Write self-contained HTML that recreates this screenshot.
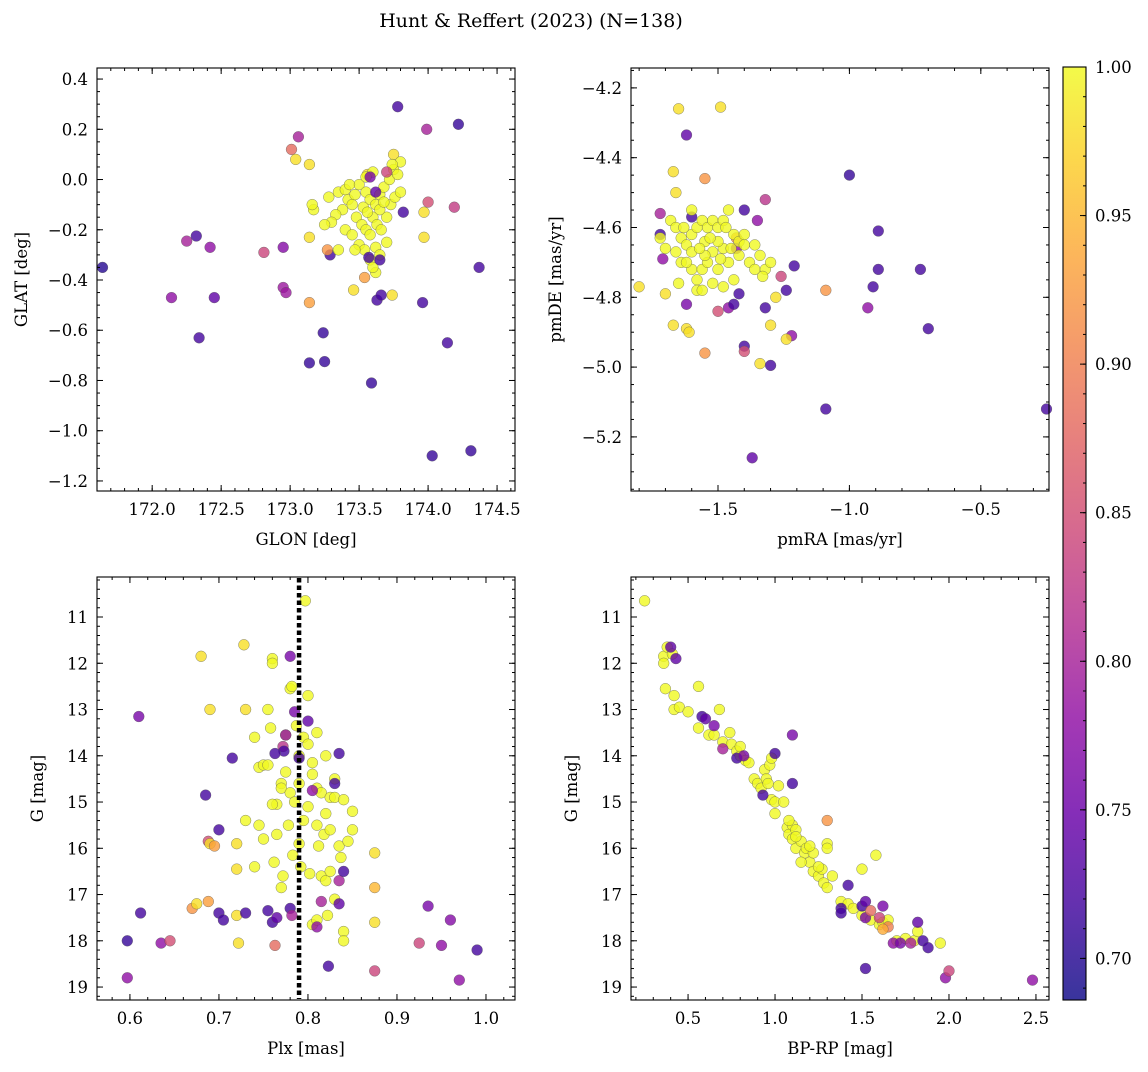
<!DOCTYPE html>
<html><head><meta charset="utf-8"><style>
html,body{margin:0;padding:0;background:#fff}
svg text{font-family:"DejaVu Serif","Liberation Serif",serif;fill:#000}
</style></head><body>
<svg id="fig" width="1148" height="1067" xmlns="http://www.w3.org/2000/svg">
<text x="531" y="27" text-anchor="middle" font-size="19">Hunt &amp; Reffert (2023) (N=138)</text>
</svg>
<script>
// ---- data ----
const p1Lon=[171.64,172.14,172.25,172.32,172.34,172.42,172.45,172.81,172.95,172.95,172.97,173.01,173.06,173.04,173.14,173.14,173.14,173.14,173.25,173.24,173.29,173.27,173.46,173.54,173.59,173.63,173.66,173.75,173.74,173.56,173.78,173.82,173.96,173.97,173.97,173.99,174.0,174.14,174.03,174.19,174.22,174.31,174.37,
173.35,173.40,173.42,173.45,173.38,173.33,173.30,173.50,173.55,173.58,173.62,173.65,173.68,173.72,173.75,173.78,173.60,173.48,173.52,173.55,173.58,173.60,173.63,173.66,173.70,173.73,173.76,173.40,173.45,173.50,173.54,173.62,173.65,173.70,173.17,173.16,173.25,173.28,173.43,173.47,173.53,173.56,173.62,173.58,173.35,173.47,173.80,173.80,173.74,173.65,173.68,173.55,173.60,
173.58,173.62,173.57,173.65,173.70];
const p1Lat=[-0.35,-0.47,-0.245,-0.225,-0.63,-0.27,-0.47,-0.29,-0.27,-0.43,-0.45,0.12,0.17,0.08,0.06,-0.23,-0.49,-0.73,-0.725,-0.61,-0.30,-0.28,-0.44,-0.39,-0.81,-0.48,-0.46,0.1,-0.46,0.02,0.29,-0.13,-0.49,-0.23,-0.13,0.2,-0.09,-0.65,-1.10,-0.11,0.22,-1.08,-0.35,
-0.05,-0.04,-0.08,-0.1,-0.12,-0.14,-0.17,-0.02,-0.05,-0.08,-0.1,-0.06,-0.03,0.0,0.04,0.02,0.03,-0.15,-0.18,-0.2,-0.22,-0.15,-0.18,-0.2,-0.15,-0.1,-0.07,-0.2,-0.22,-0.26,-0.28,-0.27,-0.3,-0.25,-0.12,-0.10,-0.18,-0.07,-0.02,-0.06,-0.11,-0.13,-0.37,-0.32,-0.28,-0.28,-0.05,0.07,0.06,-0.12,-0.09,0.01,-0.35,
0.01,-0.05,-0.31,-0.32,0.03];
const p1Prob=[0.70,0.78,0.80,0.72,0.72,0.78,0.74,0.84,0.77,0.79,0.79,0.88,0.80,0.98,0.98,0.98,0.93,0.71,0.71,0.71,0.72,0.92,0.98,0.93,0.71,0.72,0.72,0.98,0.98,0.98,0.72,0.72,0.72,0.98,0.98,0.80,0.85,0.72,0.71,0.83,0.71,0.71,0.72,
1,1,1,1,1,1,1,1,1,1,1,1,1,1,1,1,1,1,1,1,1,1,1,1,1,1,1,1,1,1,1,1,1,1,1,1,1,1,1,1,1,1,1,1,1,1,1,1,1,1,1,1,1,
0.76,0.74,0.72,0.72,0.84];

const p2RA=[-1.65,-1.49,-1.62,-1.67,-1.66,-1.55,-1.00,-1.32,-1.40,-1.35,-1.72,-1.60,-1.72,-1.71,-1.80,-1.70,-1.62,-1.50,-1.46,-1.44,-1.32,-1.67,-1.62,-1.61,-1.55,-1.40,-1.40,-1.34,-1.30,-1.30,-1.22,-1.24,-1.21,-1.24,-1.26,-1.28,-1.09,-0.89,-0.89,-0.91,-0.93,-0.73,-0.70,-1.09,-0.25,-1.37,-1.42,-1.43,-1.43,
-1.68,-1.66,-1.64,-1.62,-1.60,-1.58,-1.56,-1.54,-1.52,-1.50,-1.48,-1.46,-1.44,-1.42,-1.40,-1.38,-1.36,-1.34,-1.32,-1.30,-1.66,-1.64,-1.60,-1.58,-1.56,-1.54,-1.52,-1.50,-1.48,-1.46,-1.44,-1.42,-1.58,-1.56,-1.52,-1.48,-1.62,-1.60,-1.55,-1.50,-1.45,-1.40,-1.70,-1.72,-1.65,-1.63,-1.53,-1.47,-1.36,-1.33,-1.60,-1.55,-1.49,-1.57];
const p2DE=[-4.26,-4.255,-4.335,-4.44,-4.50,-4.46,-4.45,-4.52,-4.55,-4.58,-4.56,-4.57,-4.62,-4.69,-4.77,-4.79,-4.82,-4.84,-4.83,-4.82,-4.83,-4.88,-4.89,-4.90,-4.96,-4.94,-4.955,-4.99,-4.995,-4.88,-4.91,-4.92,-4.71,-4.78,-4.74,-4.80,-4.78,-4.61,-4.72,-4.77,-4.83,-4.72,-4.89,-5.12,-5.12,-5.26,-4.79,-4.63,-4.66,
-4.58,-4.60,-4.63,-4.65,-4.62,-4.60,-4.58,-4.60,-4.58,-4.60,-4.58,-4.55,-4.62,-4.64,-4.65,-4.70,-4.72,-4.68,-4.72,-4.70,-4.67,-4.70,-4.72,-4.75,-4.72,-4.70,-4.67,-4.72,-4.66,-4.70,-4.75,-4.68,-4.78,-4.78,-4.76,-4.77,-4.70,-4.67,-4.64,-4.64,-4.66,-4.62,-4.66,-4.63,-4.76,-4.60,-4.63,-4.60,-4.65,-4.74,-4.55,-4.68,-4.69,-4.66];
const p2Prob=[0.98,0.98,0.74,0.98,0.98,0.92,0.71,0.82,0.72,0.78,0.80,0.72,0.72,0.78,0.98,0.98,0.76,0.85,0.78,0.72,0.72,0.98,0.98,0.98,0.92,0.72,0.85,0.98,0.72,0.98,0.78,0.98,0.72,0.72,0.84,0.98,0.92,0.72,0.72,0.72,0.78,0.72,0.72,0.72,0.72,0.74,0.72,0.92,0.78,
1,1,1,1,1,1,1,1,1,1,1,1,1,1,1,1,1,1,1,1,1,1,1,1,1,1,1,1,1,1,1,1,1,1,1,1,1,1,1,1,1,1,1,1,1,1,1,1,1,1,1,1,1,1];

const p3Plx=[0.61,0.597,0.612,0.597,0.635,0.645,0.67,0.675,0.68,0.685,0.688,0.688,0.69,0.69,0.695,0.70,0.70,0.705,0.715,0.72,0.72,0.72,0.722,0.728,0.73,0.73,0.875,0.875,0.875,0.875,0.925,0.935,0.95,0.96,0.97,0.99,
0.74,0.745,0.75,0.755,0.745,0.75,0.74,0.755,0.758,0.76,0.76,0.765,0.765,0.762,0.77,0.77,0.772,0.775,0.775,0.778,0.78,0.782,0.78,0.785,0.783,0.787,0.79,0.79,0.79,0.792,0.795,0.795,0.797,0.8,0.8,0.8,0.802,0.805,0.805,0.81,0.81,0.81,0.812,0.815,0.815,0.818,0.82,0.82,0.82,0.822,0.825,0.825,0.825,0.83,0.83,0.83,0.835,0.837,0.84,0.84,0.84,0.845,0.85,0.85,0.76,0.73,0.77,0.805,0.81,
0.755,0.76,0.763,0.765,0.772,0.775,0.773,0.78,0.78,0.782,0.785,0.79,0.8,0.805,0.81,0.815,0.823,0.83,0.835,0.835,0.84,0.835,0.763];
const p3G=[13.15,18.0,17.4,18.8,18.05,18.0,17.3,17.2,11.85,14.85,17.15,15.85,13.0,15.9,15.95,15.6,17.4,17.55,14.05,16.45,15.9,17.45,18.05,11.6,13.0,17.4,16.1,16.85,17.6,18.65,18.05,17.25,18.1,17.55,18.85,18.2,
13.6,14.25,14.2,14.2,15.5,15.8,16.4,13.0,13.4,11.9,12.0,15.05,15.7,16.3,14.6,14.7,16.6,13.55,14.35,15.5,12.55,12.5,14.8,15.0,16.15,13.35,14.0,14.6,15.9,16.4,13.6,15.4,10.65,12.7,13.75,15.1,16.55,14.15,14.4,13.5,14.7,15.5,15.95,14.8,16.6,15.7,14.0,15.25,16.7,17.45,14.9,15.6,16.5,14.5,14.9,17.1,15.95,16.2,17.8,18.0,14.95,15.85,15.2,15.6,15.05,15.4,16.85,17.65,17.55,
17.35,17.6,18.1,17.5,13.8,13.55,13.9,11.85,17.3,17.45,13.05,14.05,13.25,14.75,17.7,17.15,18.55,14.6,13.95,16.7,16.5,17.2,13.95];
const p3Prob=[0.76,0.71,0.72,0.78,0.78,0.85,0.92,0.98,0.98,0.72,0.93,0.85,0.98,0.98,0.93,0.72,0.72,0.72,0.72,0.98,0.98,0.98,0.98,0.98,0.98,0.72,0.98,0.95,0.98,0.84,0.84,0.76,0.78,0.77,0.78,0.72,
1,1,1,1,1,1,1,1,1,1,1,1,1,1,1,1,1,1,1,1,1,1,1,1,1,1,1,1,1,1,1,1,1,1,1,1,1,1,1,1,1,1,1,1,1,1,1,1,1,1,1,1,1,1,1,1,1,1,1,1,1,1,1,1,1,1,1,1,1,
0.72,0.72,0.88,0.74,0.82,0.78,0.72,0.76,0.72,0.80,0.76,0.72,0.74,0.78,0.78,0.80,0.72,0.72,0.72,0.80,0.72,0.74,0.72];

const p4BR=[0.25,0.36,0.36,0.38,0.41,0.37,0.42,0.42,0.45,0.5,0.56,0.56,0.62,0.65,0.68,0.7,0.74,0.75,0.78,0.8,0.8,0.83,0.85,0.88,0.9,0.92,0.94,0.95,0.96,0.97,0.98,0.98,1.0,1.0,1.02,1.05,1.07,1.08,1.1,1.1,1.12,1.12,1.15,1.17,1.18,1.2,1.22,1.22,1.25,1.27,1.28,1.3,1.3,1.3,1.33,1.38,1.42,1.45,1.5,1.5,1.55,1.58,1.6,1.62,1.65,1.7,1.75,1.8,1.82,1.95,1.2,1.15,1.25,1.08,1.12,
0.4,0.43,0.58,0.6,0.65,0.7,0.78,0.82,0.93,1.0,1.1,1.1,1.3,1.38,1.38,1.42,1.5,1.52,1.52,1.52,1.55,1.6,1.62,1.65,1.68,1.72,1.78,1.82,1.85,1.88,1.98,2.0,2.48,1.62];
const p4G=[10.65,11.85,12.0,11.65,11.8,12.55,12.7,13.0,12.95,13.05,12.5,13.4,13.55,13.55,13.0,13.7,13.5,13.75,13.9,14.0,13.8,14.1,14.15,14.5,14.6,14.7,14.3,14.5,14.6,14.2,14.05,14.95,15.0,15.25,14.65,15.0,15.55,15.7,15.5,15.8,15.6,16.0,15.85,16.1,16.0,16.3,16.1,16.5,16.6,16.45,16.75,15.9,16.0,16.85,16.6,17.15,17.2,17.3,16.45,17.45,17.55,16.15,17.65,17.6,17.55,18.0,17.95,18.0,17.8,18.05,15.95,16.3,16.4,15.4,15.75,
11.65,11.9,13.15,13.2,13.35,13.85,14.05,14.0,14.85,13.95,13.55,14.6,15.4,17.3,17.4,16.8,17.25,17.15,17.5,18.6,17.35,17.5,17.25,17.7,18.05,18.05,18.05,17.6,18.0,18.15,18.8,18.65,18.85,17.75];
const p4Prob=[1,1,1,1,1,1,1,1,1,1,1,1,1,1,1,1,1,1,1,1,1,1,1,1,1,1,1,1,1,1,1,1,1,1,1,1,1,1,1,1,1,1,1,1,1,1,1,1,1,1,1,1,1,1,1,1,1,1,1,1,1,1,1,1,1,1,1,1,1,1,1,1,1,1,1,
0.74,0.74,0.72,0.74,0.76,0.80,0.72,0.76,0.72,0.72,0.76,0.72,0.92,0.72,0.72,0.72,0.72,0.74,0.76,0.72,0.88,0.84,0.76,0.90,0.78,0.76,0.80,0.74,0.72,0.72,0.78,0.84,0.78,0.94];

const p1XTicks=[172.0,172.5,173.0,173.5,174.0,174.5];
const p1YTicks=[-1.2,-1.0,-0.8,-0.6,-0.4,-0.2,0.0,0.2,0.4];
const p2XTicks=[-1.5,-1.0,-0.5];
const p2YTicks=[-5.2,-5.0,-4.8,-4.6,-4.4,-4.2];
const p3XTicks=[0.6,0.7,0.8,0.9,1.0];
const gTicks=[11,12,13,14,15,16,17,18,19];
const p4XTicks=[0.5,1.0,1.5,2.0,2.5];
const cbTicks=[0.70,0.75,0.80,0.85,0.90,0.95,1.00];
const plxLine=0.79;

// ---- helpers ----
const NS="http://www.w3.org/2000/svg";
const svg=document.getElementById('fig');
function mk(tag,attrs,parent){const e=document.createElementNS(NS,tag);for(const k in attrs)e.setAttribute(k,attrs[k]);(parent||svg).appendChild(e);return e;}
const VMIN=0.686,VMAX=1.0;
const stops=[[13,8,135],[65,4,157],[106,0,168],[143,13,164],[177,42,144],[204,71,120],[225,100,98],[242,132,75],[252,166,54],[252,206,37],[240,249,33]];
function plasma(v){let t=(v-VMIN)/(VMAX-VMIN);t=Math.max(0,Math.min(1,t));const f=t*10,i=Math.min(9,Math.floor(f)),r=f-i;const a=stops[i],b=stops[i+1];return `rgb(${Math.round(a[0]+(b[0]-a[0])*r)},${Math.round(a[1]+(b[1]-a[1])*r)},${Math.round(a[2]+(b[2]-a[2])*r)})`;}
function fmt(v,d){return (v<0?'\u2212':'')+Math.abs(v).toFixed(d);}
const FS=16.5;

function panel(name,box,xr,yr,xt,yt,xd,yd,xminor,yminor,xlabel,ylabel,xs,ys,ps){
  const [L,T,R,B]=box;
  const sx=v=>L+(v-xr[0])/(xr[1]-xr[0])*(R-L);
  const sy=v=>B-(v-yr[0])/(yr[1]-yr[0])*(B-T);
  const g=mk('g',{});
  
  
  const pts=mk('g',{},g);
  
  
  for(let i=0;i<xs.length;i++){
    const c=mk('circle',{cx:sx(xs[i]).toFixed(1),cy:sy(ys[i]).toFixed(1),r:5.4,fill:plasma(ps[i]),'fill-opacity':0.8,stroke:'#555','stroke-width':0.5,'stroke-opacity':0.7},pts);
    
    
  }
  const fr=mk('rect',{x:L,y:T,width:R-L,height:B-T,fill:'none',stroke:'#000','stroke-width':1.1},g);
  
  
  const lo=Math.min(xr[0],xr[1]),hi=Math.max(xr[0],xr[1]);
  for(let v=Math.ceil(lo/xminor)*xminor;v<=hi;v+=xminor){const x=sx(v);mk('line',{x1:x,x2:x,y1:B,y2:B-3,stroke:'#000'},g);mk('line',{x1:x,x2:x,y1:T,y2:T+3,stroke:'#000'},g);}
  const ylo=Math.min(yr[0],yr[1]),yhi=Math.max(yr[0],yr[1]);
  for(let v=Math.ceil(ylo/yminor)*yminor;v<=yhi;v+=yminor){const y=sy(v);mk('line',{x1:L,x2:L+3,y1:y,y2:y,stroke:'#000'},g);mk('line',{x1:R,x2:R-3,y1:y,y2:y,stroke:'#000'},g);}
  xt.forEach(v=>{const x=sx(v);mk('line',{x1:x,x2:x,y1:B,y2:B-6,stroke:'#000'},g);mk('line',{x1:x,x2:x,y1:T,y2:T+6,stroke:'#000'},g);
    const t=mk('text',{x:x,y:B+24,'text-anchor':'middle','font-size':FS},g);t.textContent=fmt(v,xd);
    
    });
  yt.forEach(v=>{const y=sy(v);mk('line',{x1:L,x2:L+6,y1:y,y2:y,stroke:'#000'},g);mk('line',{x1:R,x2:R-6,y1:y,y2:y,stroke:'#000'},g);
    const t=mk('text',{x:L-9,y:y+6,'text-anchor':'end','font-size':FS},g);t.textContent=fmt(v,yd);
    
    });
  const xl=mk('text',{x:(L+R)/2,y:B+54,'text-anchor':'middle','font-size':16.5},g);xl.textContent=xlabel;
  
  
  const yx=L-(yd===0?54:70);
  const yl=mk('text',{x:yx,y:(T+B)/2,'text-anchor':'middle','font-size':16.5,transform:`rotate(-90 ${yx} ${(T+B)/2})`},g);yl.textContent=ylabel;
  
  
  return {sx,sy,g};
}
panel('glon-glat',[97,68,515,491],[171.60,174.63],[-1.24,0.444],p1XTicks,p1YTicks,1,1,0.1,0.05,'GLON [deg]','GLAT [deg]',p1Lon,p1Lat,p1Prob);
panel('pm',[631,68,1049,491],[-1.831,-0.2406],[-5.355,-4.143],p2XTicks,p2YTicks,1,1,0.1,0.05,'pmRA [mas/yr]','pmDE [mas/yr]',p2RA,p2DE,p2Prob);
const p3=panel('plx-g',[97,577,515,1000],[0.563,1.0326],[19.28,10.135],p3XTicks,gTicks,1,0,0.02,0.2,'Plx [mas]','G [mag]',p3Plx,p3G,p3Prob);
const vl=mk('line',{x1:p3.sx(plxLine),x2:p3.sx(plxLine),y1:578,y2:999,stroke:'#000','stroke-width':4.5,'stroke-dasharray':'4.5 3'},p3.g);


panel('cmd',[631,577,1049,1000],[0.172,2.575],[19.28,10.135],p4XTicks,gTicks,1,0,0.1,0.2,'BP-RP [mag]','G [mag]',p4BR,p4G,p4Prob);

// colorbar
const cb=mk('g',{});


const defs=mk('defs',{},cb);
const lg=mk('linearGradient',{id:'cbg',x1:0,y1:1,x2:0,y2:0},defs);
for(let i=0;i<=20;i++){const v=VMIN+(VMAX-VMIN)*i/20;mk('stop',{offset:i/20,'stop-color':plasma(v)},lg);}
const CT=67,CB=1000,CL=1063,CR=1086;
const cy=v=>CB-(v-VMIN)/(VMAX-VMIN)*(CB-CT);
mk('rect',{x:CL,y:CT,width:CR-CL,height:CB-CT,fill:'url(#cbg)','fill-opacity':0.82},cb);
mk('rect',{x:CL,y:CT,width:CR-CL,height:CB-CT,fill:'none',stroke:'#000','stroke-width':1.1},cb);
for(let v=0.69;v<=1.0001;v+=0.01){const y=cy(v);mk('line',{x1:CR,x2:CR-3,y1:y,y2:y,stroke:'#000'},cb);}
cbTicks.forEach(v=>{const y=cy(v);mk('line',{x1:CR,x2:CR-6,y1:y,y2:y,stroke:'#000'},cb);
  const t=mk('text',{x:CR+9,y:y+6,'font-size':FS},cb);t.textContent=v.toFixed(2);
  
  });
</script>
</body></html>
